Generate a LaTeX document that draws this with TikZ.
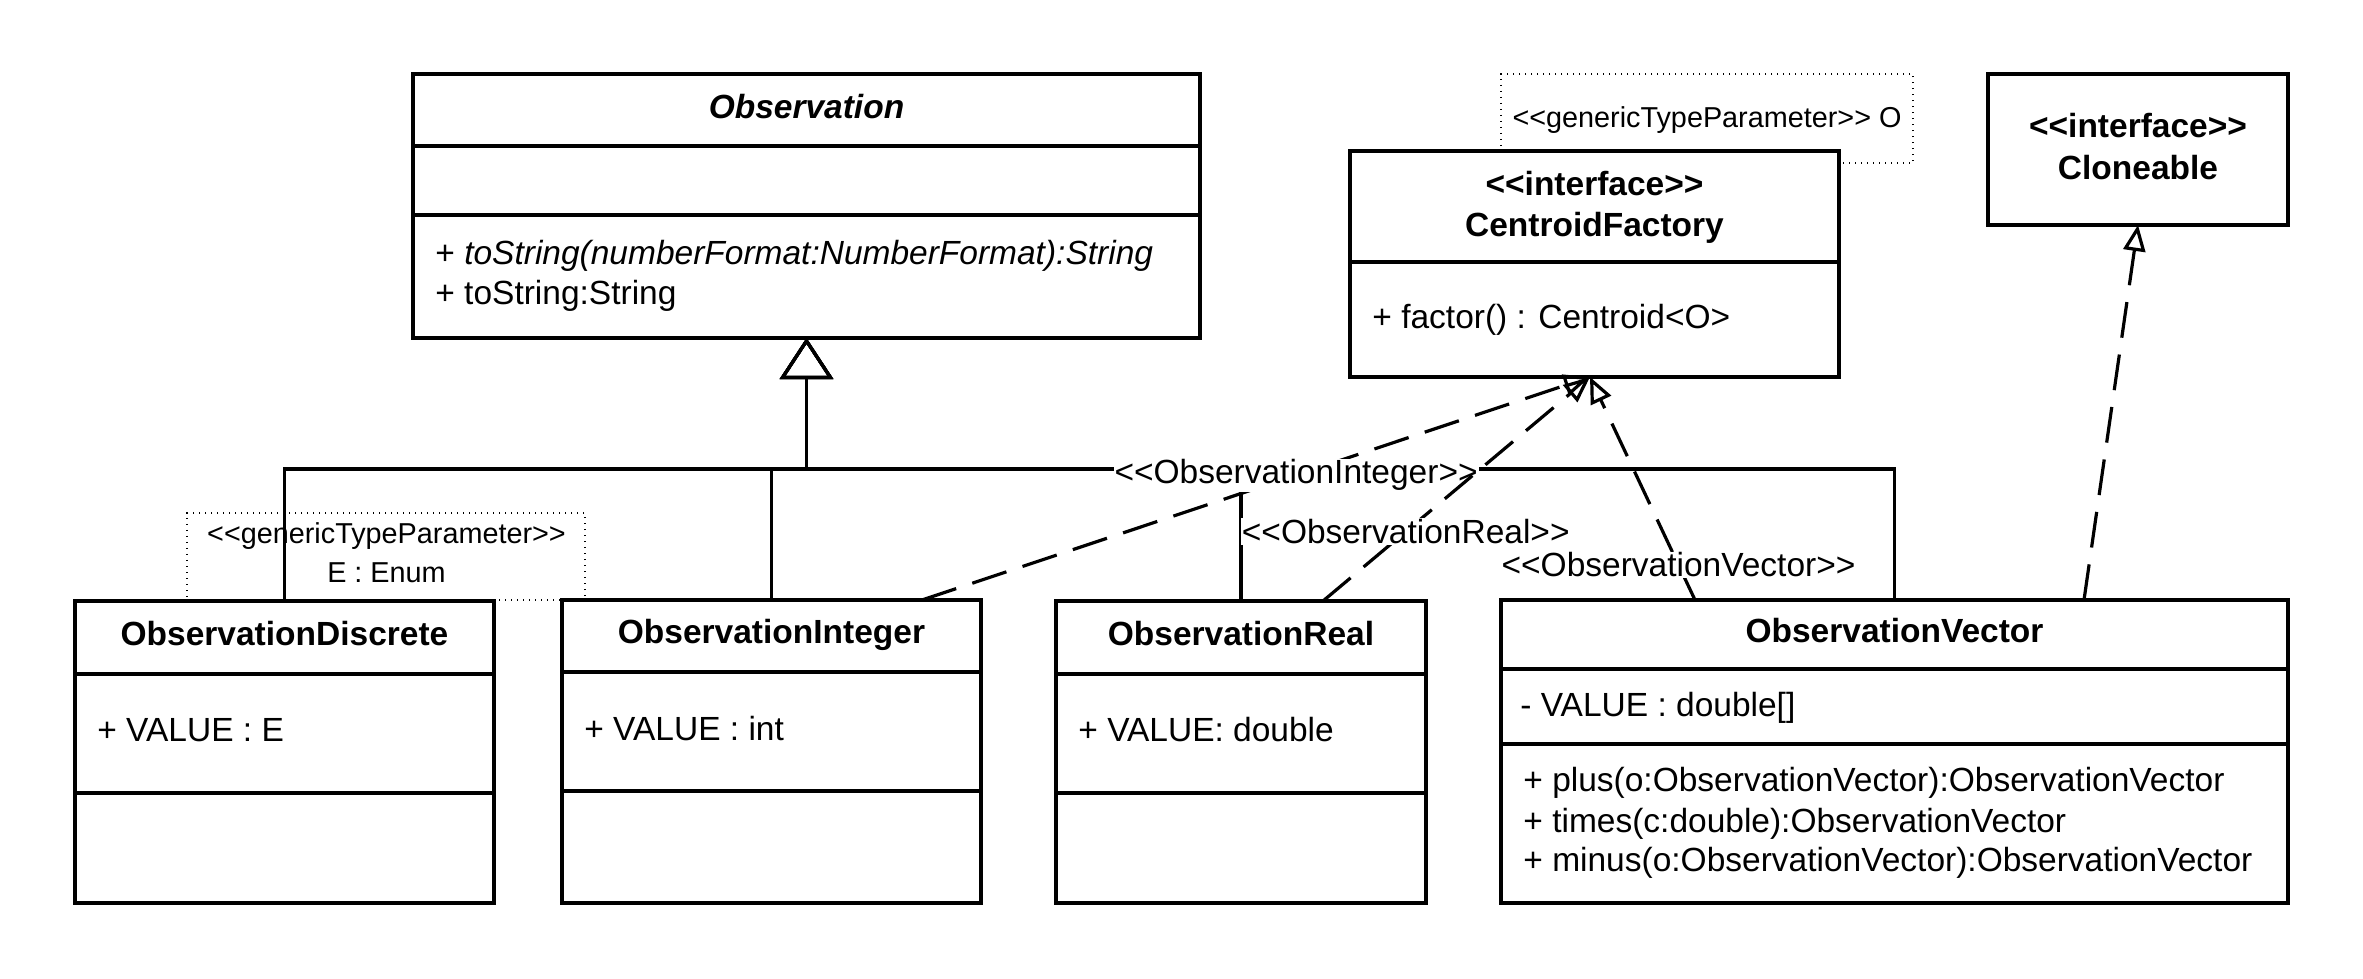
\documentclass[tikz,border=0pt]{standalone}
\usepackage{fontspec}
\setmainfont{Liberation Sans}[Ligatures=TeXOff]
\usetikzlibrary{arrows.meta}
\newcommand\mainsz{\fontsize{16.75pt}{20pt}\selectfont}
\newcommand\notesz{\fontsize{14.4pt}{18pt}\selectfont}
\begin{document}
\begin{tikzpicture}[x=0.5pt, y=-0.5pt,
  umlbox/.style={draw, fill=white, line width=1.8pt, inner sep=0pt, outer sep=0pt},
  divider/.style={line width=1.8pt},
  txt/.style={font=\mainsz, inner sep=0pt, anchor=base},
  ltxt/.style={txt, anchor=base west},
  ttl/.style={txt, font=\mainsz\bfseries},
  notebox/.style={draw, line width=0.7pt, dash pattern=on 0.7pt off 2.3pt, inner sep=0pt, outer sep=0pt},
  ntxt/.style={font=\notesz, inner sep=0pt, anchor=base},
  gen/.style={line width=1.6pt, -{Triangle[open, length=20.5pt, width=26.5pt]}},
  realz/.style={line width=1.6pt, dash pattern=on 18pt off 8.5pt, -{Triangle[open, length=13pt, width=11pt]}},
  lbl/.style={font=\mainsz, fill=white, inner sep=0.5pt}
]
\fill[white] (0,0) rectangle (2363,979);
\useasboundingbox (0,0) rectangle (2363,979);

% notes (behind boxes)
\node[notebox, minimum width=206pt, minimum height=44.5pt] (n2) at (1707,118.5) {};
\node[ntxt] (n2t) at (1707,127) {<<genericTypeParameter>> O};
\node[notebox, minimum width=199pt, minimum height=43.5pt] (n1) at (386,556.5) {};
\node[ntxt] (n1t1) at (386.5,543) {<<genericTypeParameter>>};
\node[ntxt] (n1t2) at (386.5,582) {E : Enum};

% Observation
\node[umlbox, minimum width=393.5pt, minimum height=132pt] (obs) at (806.5,206) {};
\draw[divider] ([yshift=-36pt]obs.north west) -- ([yshift=-36pt]obs.north east);
\draw[divider] ([yshift=-70.5pt]obs.north west) -- ([yshift=-70.5pt]obs.north east);
\node[ttl, font=\mainsz\bfseries\itshape] (obsT) at (806.5,119) {Observation};
\node[ltxt] (obsM1) at (435,264) {+ \textit{toString(numberFormat:NumberFormat):String}};
\node[ltxt] (obsM2) at (435,304) {+ toString:String};

% CentroidFactory
\node[umlbox, minimum width=244.5pt, minimum height=113pt] (cf) at (1594.5,264) {};
\draw[divider] ([yshift=-55.5pt]cf.north west) -- ([yshift=-55.5pt]cf.north east);
\node[ttl] (cfT1) at (1594.5,196) {<<interface>>};
\node[ttl] (cfT2) at (1594.5,236) {CentroidFactory};
\node[ltxt] (cfM) at (1372,328) {+ factor() : Centroid<O>};

% Cloneable
\node[umlbox, minimum width=150pt, minimum height=75.5pt] (clo) at (2138,149.5) {};
\node[ttl] (cloT1) at (2138,138) {<<interface>>};
\node[ttl] (cloT2) at (2138,179) {Cloneable};

% ObservationDiscrete
\node[umlbox, minimum width=209.5pt, minimum height=151pt] (disc) at (284.5,752) {};
\draw[divider] ([yshift=-36.5pt]disc.north west) -- ([yshift=-36.5pt]disc.north east);
\draw[divider] ([yshift=-96pt]disc.north west) -- ([yshift=-96pt]disc.north east);
\node[ttl] (discT) at (284.5,645) {ObservationDiscrete};
\node[ltxt] (discA) at (97,741) {+ VALUE : E};

% ObservationInteger
\node[umlbox, minimum width=209.5pt, minimum height=151.5pt] (int) at (771.5,751.5) {};
\draw[divider] ([yshift=-36pt]int.north west) -- ([yshift=-36pt]int.north east);
\draw[divider] ([yshift=-95.5pt]int.north west) -- ([yshift=-95.5pt]int.north east);
\node[ttl] (intT) at (771.5,643) {ObservationInteger};
\node[ltxt] (intA) at (584,740) {+ VALUE : int};

% ObservationReal
\node[umlbox, minimum width=185pt, minimum height=151pt] (real) at (1241,752) {};
\draw[divider] ([yshift=-36.5pt]real.north west) -- ([yshift=-36.5pt]real.north east);
\draw[divider] ([yshift=-96pt]real.north west) -- ([yshift=-96pt]real.north east);
\node[ttl] (realT) at (1241,645) {ObservationReal};
\node[ltxt] (realA) at (1078,741) {+ VALUE: double};

% ObservationVector
\node[umlbox, minimum width=393.5pt, minimum height=151.5pt] (vec) at (1894.5,751.5) {};
\draw[divider] ([yshift=-34.5pt]vec.north west) -- ([yshift=-34.5pt]vec.north east);
\draw[divider] ([yshift=-72pt]vec.north west) -- ([yshift=-72pt]vec.north east);
\node[ttl] (vecT) at (1894.5,642) {ObservationVector};
\node[ltxt] (vecA) at (1520,716) {- VALUE : double[]};
\node[ltxt] (vecM1) at (1523,791) {+ plus(o:ObservationVector):ObservationVector};
\node[ltxt] (vecM2) at (1523,832) {+ times(c:double):ObservationVector};
\node[ltxt] (vecM3) at (1523,871) {+ minus(o:ObservationVector):ObservationVector};

% generalizations
\coordinate (jn) at (806.5,469);
\draw[gen] (disc.north) |- (jn) -- (obs.south);
\draw[gen] (int.north) |- (jn) -- (obs.south);
\draw[gen] (real.north) |- (jn) -- (obs.south);
\draw[gen] (vec.north) |- (jn) -- (obs.south);

% realizations
\draw[realz] ([xshift=75.25pt]int.north) -- node[lbl, pos=0.56] (lblI) {<<ObservationInteger>>} ([xshift=-2.25pt]cf.south);
\draw[realz] ([xshift=41pt]real.north) -- node[lbl, pos=0.31] (lblR) {<<ObservationReal>>} ([xshift=-2.25pt]cf.south);
\draw[realz] ([xshift=-99.75pt]vec.north) -- node[lbl, pos=0.157] (lblV) {<<ObservationVector>>} ([xshift=-2.25pt]cf.south);
\draw[realz] ([xshift=94.75pt]vec.north) -- (clo.south);
\end{tikzpicture}
\end{document}
